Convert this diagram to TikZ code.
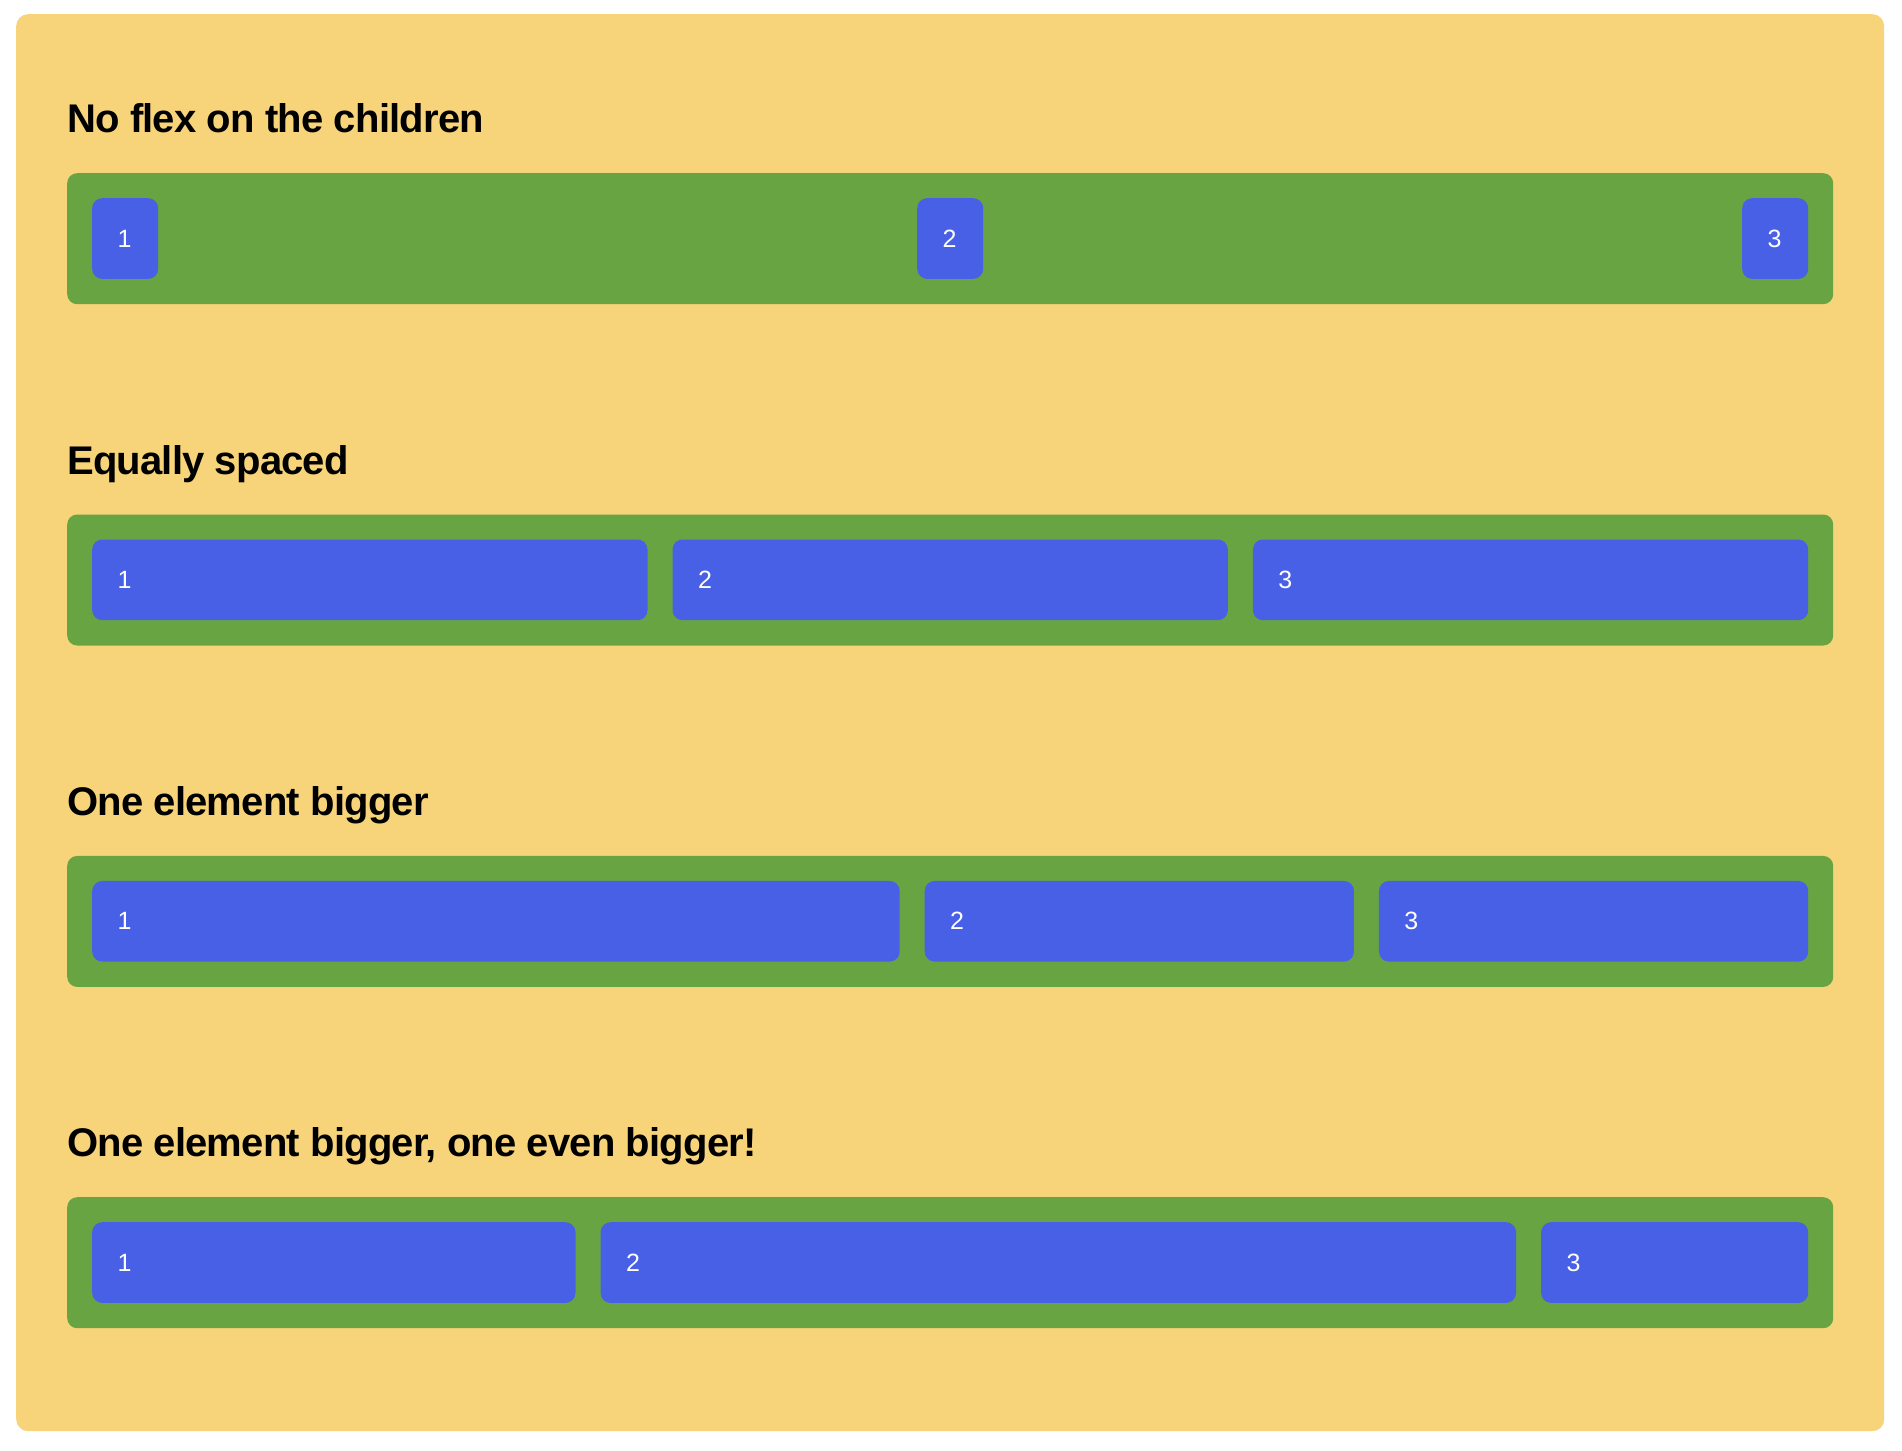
\documentclass[tikz,border=0pt]{standalone}
\usepackage{fontspec}
\setmainfont{Liberation Sans}
\newfontfamily\headfont[LetterSpace=-2]{Liberation Sans}
\definecolor{bgY}{RGB}{247,211,122}
\definecolor{flexG}{RGB}{104,165,66}
\definecolor{itemB}{RGB}{72,96,230}
\begin{document}
\begin{tikzpicture}[x=1pt,y=-1pt,
  panel/.style={fill=bgY, rounded corners=12pt, anchor=north west, minimum width=1868pt, minimum height=1417pt, inner sep=0pt},
  container/.style={fill=flexG, rounded corners=10pt, anchor=north west, minimum width=1766pt, minimum height=131pt, inner sep=0pt},
  item/.style={fill=itemB, rounded corners=10pt, anchor=north west, minimum height=80.7pt, inner ysep=0pt, inner xsep=25.5pt, text=white, font=\fontsize{25}{30}\selectfont, align=left, text width=#1},
  heading/.style={anchor=base west, inner sep=0pt, font=\headfont\bfseries\fontsize{40}{48}\selectfont}]
\useasboundingbox (0,0) rectangle (1902,1450);
\fill[white] (0,0) rectangle (1902,1450);
\node[panel] (panel) at (16,14) {};
% Row 1
\node[heading] (h1) at (67,132.7) {No flex on the children};
\node[container] (c1) at (67,173) {};
\node[item=15pt] (r1a) at (92,198) {1};
\node[item=15pt] (r1b) at (917,198) {2};
\node[item=15pt] (r1c) at (1742,198) {3};
% Row 2
\node[heading] (h2) at (67,474) {Equally spaced};
\node[container] (c2) at (67,514.3) {};
\node[item=504.3pt] (r2a) at (92,539.3) {1};
\node[item=504.3pt] (r2b) at (672.3,539.3) {2};
\node[item=504.3pt] (r2c) at (1252.7,539.3) {3};
% Row 3
\node[heading] (h3) at (67,815.4) {One element bigger};
\node[container] (c3) at (67,855.7) {};
\node[item=756.5pt] (r3a) at (92,880.7) {1};
\node[item=378.25pt] (r3b) at (924.5,880.7) {2};
\node[item=378.25pt] (r3c) at (1378.75,880.7) {3};
% Row 4
\node[heading] (h4) at (67,1156.7) {One element bigger, one even bigger!};
\node[container] (c4) at (67,1197) {};
\node[item=432.3pt] (r4a) at (92,1222) {1};
\node[item=864.6pt] (r4b) at (600.3,1222) {2};
\node[item=216.1pt] (r4c) at (1540.9,1222) {3};
\end{tikzpicture}
\end{document}
